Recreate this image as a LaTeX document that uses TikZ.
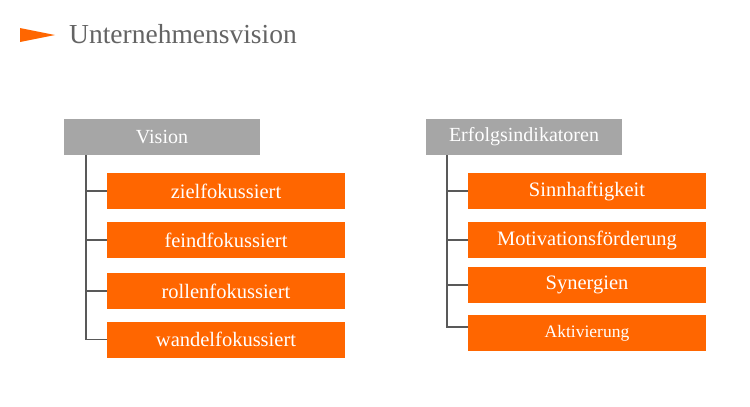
\documentclass[tikz,border=0pt]{standalone}
\usepackage{fontspec}
\setmainfont{Liberation Serif}
\definecolor{orng}{RGB}{255,102,0}
\definecolor{hdgray}{RGB}{166,166,166}
\definecolor{lngray}{RGB}{89,89,89}
\definecolor{ttlgray}{RGB}{100,100,100}
\begin{document}
\begin{tikzpicture}[x=1pt,y=-1pt,
  hdbox/.style={fill=hdgray,text=white,minimum width=196pt,minimum height=36pt,inner sep=0pt,font=\fontsize{20}{22}\selectfont},
  itembox/.style={fill=orng,text=white,minimum width=238pt,minimum height=36pt,inner sep=0pt,font=\fontsize{20.5}{22}\selectfont},
  conn/.style={draw=lngray,line width=1.8pt}]
\useasboundingbox (0,0) rectangle (750,407);
\fill[white] (0,0) rectangle (750,407);
% title
\fill[orng] (20,28) -- (55,35) -- (20,42) -- cycle;
\node[anchor=base west,inner sep=0pt,text=ttlgray,font=\fontsize{27.5}{30}\selectfont] (title) at (69,43) {Unternehmensvision};
% left column
\node[hdbox] (vis) at (162,137) {Vision};
\node[itembox] (l1) at (226,191) {zielfokussiert};
\node[itembox] (l2) at (226,240) {feindfokussiert};
\node[itembox] (l3) at (226,291) {rollenfokussiert};
\node[itembox] (l4) at (226,339.5) {wandelfokussiert};
\coordinate (lv) at (86,155);
\foreach \b in {l1,l2,l3,l4} \draw[conn] (lv) |- (\b.west);
% right column
\node[hdbox] (erf) at (524,137) {Erfolgsindikatoren};
\node[itembox] (r1) at (587,191) {Sinnhaftigkeit};
\node[itembox] (r2) at (587,240) {Motivationsförderung};
\node[itembox] (r3) at (587,285) {Synergien};
\node[itembox,font=\fontsize{17.5}{19}\selectfont] (r4) at (587,333) {Aktivierung};
\coordinate (rv) at (447,155);
\foreach \b in {r1,r2,r3} \draw[conn] (rv) |- (\b.west);
\draw[conn] (rv) |- ([yshift=6pt]r4.west);
\end{tikzpicture}
\end{document}
